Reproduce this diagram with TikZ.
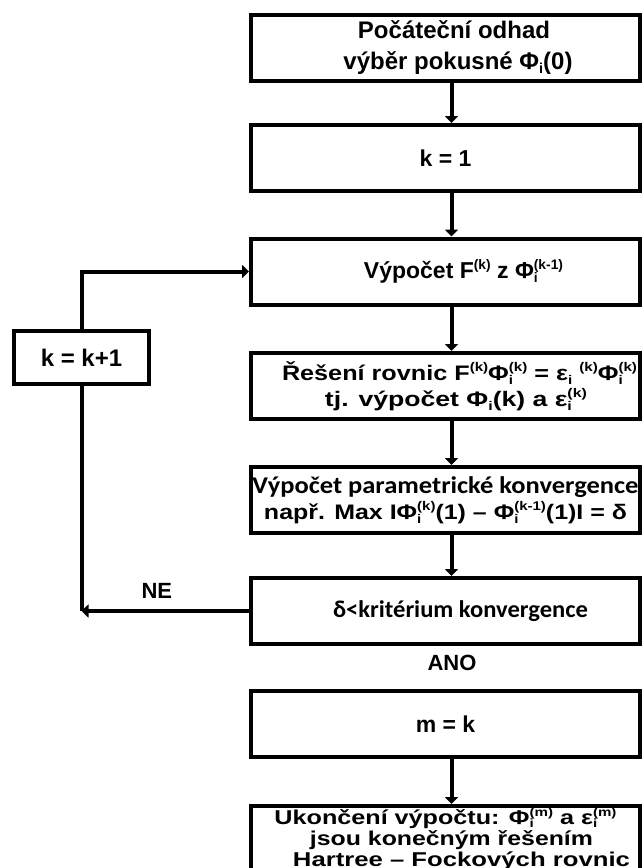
\documentclass[tikz,border=0pt]{standalone}
\usepackage{fontspec}
\setmainfont{Liberation Sans}
\newfontfamily\kalibri{Carlito}
\usepackage{graphicx}
\usetikzlibrary{arrows.meta}
\newcommand*{\hor}[1]{\raisebox{0.4em}{\scalebox{0.6}{#1}}}
\newcommand*{\dol}[1]{\raisebox{-0.18em}{\scalebox{0.6}{#1}}}
\newcommand*{\ind}[2]{\rlap{\dol{#1}}\hor{#2}}
\newcommand*{\sirka}[2]{\resizebox{#1}{\height}{#2}}

\begin{document}
\begin{tikzpicture}[x=0.5pt,y=-0.5pt,
  blok/.style={draw,line width=2pt,minimum width=194.5pt,minimum height=33pt,inner sep=0pt,align=center,font=\bfseries\fontsize{11.5}{14}\selectfont},
  sipka/.style={line width=2pt,arrows={-Triangle[width=6.5pt,length=3.5pt]}},
  popis/.style={font=\bfseries\fontsize{11}{13}\selectfont}]
%\draw[help lines](0,0)grid(643,868);
\useasboundingbox(0,0)rectangle(643,868);
\node[blok,font=\bfseries\fontsize{12}{15.5}\selectfont](odhad)at(445.5,47.5){\hspace*{8.5pt}Počáteční odhad\\\hspace*{12.5pt}výběr pokusné Φ\dol{i}(0)};
\node[blok](k1)at(445.5,158){k = 1};
\node[blok](fk)at(445.5,271.5){\hspace*{18pt}Výpočet F\hor{(k)} z Φ\ind{i}{(k-1)}};
\node[blok,font=\bfseries\fontsize{10.5}{13}\selectfont](reseni)at(445.5,386){\hspace*{14pt}\sirka{177.5pt}{Řešení rovnic F\hor{(k)}Φ\ind{i}{(k)} = ε\dol{i} \hor{(k)}Φ\ind{i}{(k)}}\\\hspace*{10.5pt}\sirka{131pt}{tj. výpočet Φ\dol{i}(k) a ε\ind{i}{(k)}}};
\node[blok,font=\bfseries\fontsize{10.5}{13}\selectfont](param)at(445.5,500){\sirka{193pt}{\kalibri\fontsize{12}{12.5}\selectfont Výpočet parametrické konvergence}\\\sirka{181.5pt}{např. Max IΦ\ind{i}{(k)}(1) – Φ\ind{i}{(k-1)}(1)I = δ}};
\node[blok,font=\kalibri\bfseries\fontsize{12}{14}\selectfont](krit)at(445.5,611){\hspace*{15pt}\raisebox{2pt}{\sirka{127.5pt}{δ<kritérium konvergence}}};
\node[blok](mk)at(445.5,724){m = k};
\node[blok,font=\bfseries\fontsize{10}{9}\selectfont](konec)at(445.5,839){\sirka{171pt}{Ukončení výpočtu: Φ\ind{i}{(m)} a ε\ind{i}{(m)}}\\\hspace*{6pt}\sirka{141.5pt}{jsou konečným řešením}\\\hspace*{16pt}\sirka{168.5pt}{Hartree – Fockových rovnic}};
\node[blok,minimum width=67.5pt,minimum height=26.5pt,font=\bfseries\fontsize{12}{14}\selectfont](kk)at(81.5,357.5){k = k+1};
\node[popis](ano)at(452,663){ANO};

\draw[sipka]([xshift=3pt]odhad.south)--([xshift=3pt]k1.north);
\draw[sipka]([xshift=3pt]k1.south)--([xshift=3pt]fk.north);
\draw[sipka]([xshift=3pt]fk.south)--([xshift=3pt]reseni.north);
\draw[sipka]([xshift=3pt]reseni.south)--([xshift=3pt]param.north);
\draw[sipka]([xshift=3pt]param.south)--([xshift=3pt]krit.north);
\draw[sipka]([xshift=3pt]mk.south)--([xshift=3pt]konec.north);
\draw[sipka](kk.north)|-(fk.west);
\draw[line width=2pt](kk.south)--(krit.west-|kk.south);
\draw[sipka](krit.west)--(krit.west-|kk.south)node[popis,pos=0.55,above=2pt]{NE};
\end{tikzpicture}
\end{document}
